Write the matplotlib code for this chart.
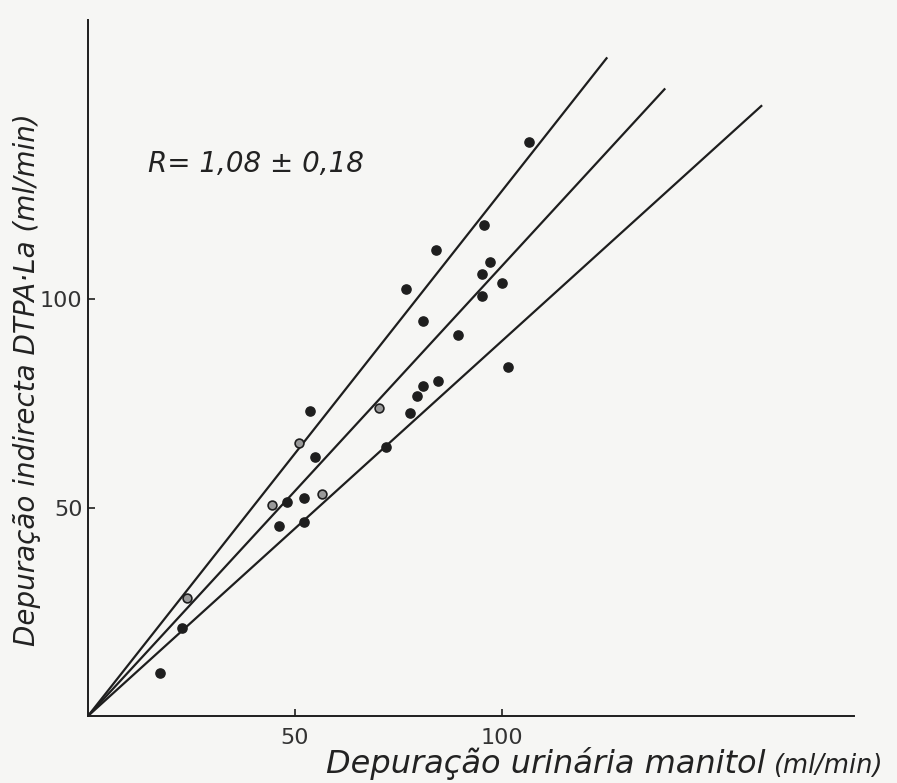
import matplotlib.pyplot as plt
import numpy as np

# Depuração urinária do manitol vs depuração indirecta DTPA-La (ml/min)
manitol = [106.5, 95.7, 84.1, 97.1, 95.2, 100.0, 95.2, 76.8, 80.9, 89.4,
           101.4, 80.9, 84.5, 79.5, 77.8, 72.0, 53.6, 54.8, 48.1, 52.2,
           46.1, 52.2, 17.4, 22.7]
dtpa = [137.6, 117.7, 111.8, 108.9, 106.0, 103.8, 100.7, 102.4, 94.7, 91.4,
        83.7, 79.1, 80.3, 76.7, 72.7, 64.5, 73.1, 62.1, 51.3, 52.3,
        45.6, 46.5, 10.3, 21.1]

# pontos claros (círculo aberto)
manitol_open = [70.3, 51.0, 44.4, 56.5, 23.9]
dtpa_open = [73.9, 65.5, 50.6, 53.2, 28.3]

R = 1.08
dR = 0.18
line_ends = [125.4, 139.4, 162.8]   # extensão de cada recta

ink = "#1e1e1e"
paper = "#f6f6f4"

fig = plt.figure(figsize=(8.97, 7.83), dpi=100, facecolor=paper)
ax = fig.add_axes([0.0981, 0.0856, 0.854, 0.889], facecolor=paper)

for slope, xend in zip([R + dR, R, R - dR], line_ends):
    xs = np.array([0, xend])
    ax.plot(xs, slope * xs, color=ink, lw=1.6, solid_capstyle="butt")

ax.scatter(manitol, dtpa, s=44, color=ink, zorder=3)
ax.scatter(manitol_open, dtpa_open, s=40, facecolor="#9a9a9a",
           edgecolor=ink, linewidth=1.2, zorder=3)

ax.set_xlim(0, 185)
ax.set_ylim(0, 167)
for side in ["top", "right"]:
    ax.spines[side].set_visible(False)
for side in ["left", "bottom"]:
    ax.spines[side].set_color(ink)
    ax.spines[side].set_linewidth(1.4)

ax.set_xticks([50, 100])
ax.set_yticks([50, 100])
ax.tick_params(direction="in", length=5, width=1.2, color=ink,
               labelsize=16, labelcolor="#333333")
ax.tick_params(axis="x", pad=9)
ax.tick_params(axis="y", pad=4)

# rótulos dos eixos
fig.text(765 / 897, 0.0128, "Depuração urinária manitol", fontsize=23,
         style="italic", color="#222222", ha="right", va="baseline")
fig.text(773 / 897, 0.0128, "(ml/min)", fontsize=18.5,
         style="italic", color="#222222", ha="left", va="baseline")
fig.text(27 / 897, 0.515, "Depuração indirecta DTPA·La (ml/min)",
         fontsize=20, style="italic", color="#222222", rotation=90,
         ha="center", va="center")

fig.text(148 / 897, 0.780, "R= 1,08 ± 0,18", fontsize=20,
         style="italic", color="#222222", ha="left", va="baseline")

fig.savefig("out.png", dpi=100, facecolor=paper)
